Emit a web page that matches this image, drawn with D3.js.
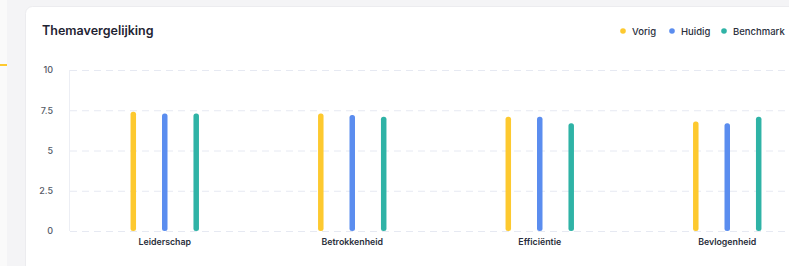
<!DOCTYPE html>
<html><head><meta charset="utf-8">
<script src="https://cdn.jsdelivr.net/npm/d3@7"></script>
<style>
html,body{margin:0;padding:0;background:#f4f4f6;}
svg{display:block;font-family:Inter,"Open Sans",sans-serif;}
</style></head>
<body><svg id="c" width="789" height="266"></svg>
<script>
const categories = ["Leiderschap","Betrokkenheid","Efficiëntie","Bevlogenheid"];
const seriesNames = ["Vorig","Huidig","Benchmark"];
const vorig = [7.4, 7.3, 7.1, 6.8];
const huidig = [7.3, 7.2, 7.1, 6.7];
const benchmark = [7.3, 7.1, 6.7, 7.1];
const yTicks = [0, 2.5, 5, 7.5, 10];
const colors = ["#fdc92f","#5b8def","#2fb3a6"];

const seriesVals = [vorig, huidig, benchmark];
const svg = d3.select("#c");

// page background / sidebar sliver
svg.append("rect").attr("x",0).attr("y",0).attr("width",7).attr("height",266).attr("fill","#fafafa");
svg.append("rect").attr("x",0).attr("y",64).attr("width",7).attr("height",2).attr("fill","#fdc92f");
// card
svg.append("rect").attr("x",25.5).attr("y",6.5).attr("width",800).attr("height",300).attr("rx",7)
  .attr("fill","#fff").attr("stroke","#ececef");

svg.append("text").attr("x",42).attr("y",35).text("Themavergelijking")
  .attr("font-size",12.5).attr("font-weight",600).attr("fill","#1f2433");

const y = d3.scaleLinear().domain([0,10]).range([231,70]);
const x0 = d3.scaleBand().domain(categories).range([71,821]).padding(0);
const x1 = d3.scaleBand().domain(seriesNames).range([0,x0.bandwidth()]).paddingInner(0).paddingOuter(1.48);

// grid
const g = svg.append("g");
g.selectAll("line.grid").data(yTicks).join("line")
  .attr("x1",70).attr("x2",789).attr("y1",d=>y(d)+0.5).attr("y2",d=>y(d)+0.5)
  .attr("stroke","#e6e9f2").attr("stroke-dasharray","7,5");
g.append("line").attr("x1",69.5).attr("x2",69.5).attr("y1",y(10)).attr("y2",y(0))
  .attr("stroke","#eceef4");

// y axis labels
const yAxis = d3.axisLeft(y).tickValues(yTicks).tickSize(0).tickPadding(0).tickFormat(d3.format("~g"));
const ya = svg.append("g").attr("transform","translate(53,0)").call(yAxis);
ya.select(".domain").remove();
ya.selectAll("text").attr("font-size",9).attr("fill","#555a66").attr("font-family","Inter,sans-serif").attr("font-weight",500);

// x axis labels
const xAxis = d3.axisBottom(x0).tickSize(0).tickPadding(0);
const xa = svg.append("g").attr("transform","translate(0,239)").call(xAxis);
xa.select(".domain").remove();
xa.selectAll("text").attr("font-size",8.8).attr("fill","#2a2f3c").attr("font-weight",600).attr("font-family","Inter,sans-serif");

// bars
const bw = 5.5;
categories.forEach((c,i)=>{
  seriesNames.forEach((s,j)=>{
    const cx = x0(c) + x1(s) + x1.bandwidth()/2;
    const v = seriesVals[j][i];
    svg.append("rect").attr("x",cx-bw/2).attr("width",bw)
      .attr("y",y(v)).attr("height",y(0)-y(v)).attr("rx",2.5)
      .attr("fill",colors[j]);
  });
});

// legend
const legX = [623, 672, 724];
const leg = svg.append("g");
seriesNames.forEach((s,j)=>{
  leg.append("circle").attr("cx",legX[j]).attr("cy",31).attr("r",2.8).attr("fill",colors[j]);
  leg.append("text").attr("x",legX[j]+9).attr("y",34.5).text(s)
    .attr("font-size",9.5).attr("font-weight",500).attr("fill","#2a2f3c");
});
</script></body></html>
